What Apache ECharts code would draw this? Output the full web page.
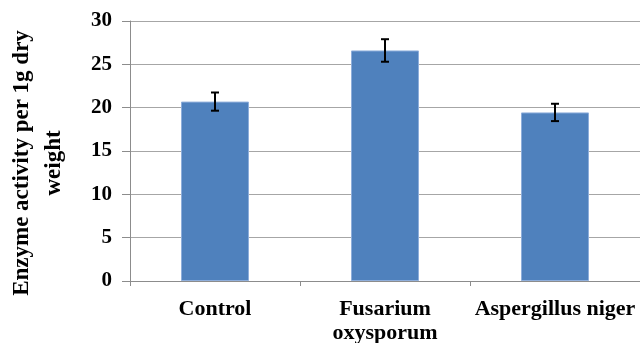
<!DOCTYPE html>
<html>
<head>
<meta charset="utf-8">
<script src="https://cdn.jsdelivr.net/npm/echarts@6/dist/echarts.min.js"></script>
<style>
html,body{margin:0;padding:0;background:#fff;}
#chart{width:640px;height:343px;}
</style>
</head>
<body>
<div id="chart"></div>
<script>
var categories = ['Control', 'Fusarium\noxysporum', 'Aspergillus niger'];
var values = [20.7, 26.6, 19.45];
var errors = [1.05, 1.3, 1.0];
var yTicks = [0, 5, 10, 15, 20, 25, 30];
var yTitle = 'Enzyme activity per 1g dry\nweight';

var errData = categories.map(function (c, i) {
  return [i, values[i] - errors[i], values[i] + errors[i]];
});

var serif = '"Liberation Serif", "Times New Roman", serif';
var chart = echarts.init(document.getElementById('chart'));
chart.setOption({
  animation: false,
  grid: { left: 130, right: 0, top: 21, bottom: 62, containLabel: false, outerBoundsMode: 'none' },
  xAxis: {
    type: 'category',
    data: categories,
    axisLine: { lineStyle: { color: '#8c8c8c', width: 1 } },
    axisTick: { show: true, length: 5, alignWithLabel: false, lineStyle: { color: '#8c8c8c' } },
    axisLabel: {
      margin: 16,
      fontFamily: serif, fontWeight: 'bold', fontSize: 22, color: '#000',
      lineHeight: 24, interval: 0
    }
  },
  yAxis: {
    type: 'value',
    min: yTicks[0], max: yTicks[yTicks.length - 1], interval: 5,
    axisLine: { show: true, lineStyle: { color: '#8c8c8c', width: 1 } },
    axisTick: { show: true, length: 8, lineStyle: { color: '#8c8c8c' } },
    splitLine: { show: true, lineStyle: { color: '#a6a6a6', width: 1 } },
    axisLabel: {
      margin: 18,
      fontFamily: serif, fontWeight: 'bold', fontSize: 21, color: '#000'
    }
  },
  graphic: [{
    type: 'text',
    x: 38, y: 163,
    rotation: Math.PI / 2,
    style: {
      text: yTitle,
      font: 'bold 23px ' + serif,
      fill: '#000',
      align: 'center',
      verticalAlign: 'middle',
      lineHeight: 32
    }
  }],
  series: [{
    type: 'bar',
    data: values,
    barWidth: '40%',
    itemStyle: { color: '#4f81bd', borderColor: '#8eaedb', borderWidth: 1 }
  }, {
    type: 'custom',
    data: errData,
    encode: { x: 0, y: [1, 2] },
    z: 10,
    renderItem: function (params, api) {
      var x = api.value(0);
      var lo = api.coord([x, api.value(1)]);
      var hi = api.coord([x, api.value(2)]);
      var hw = 4;
      var st = { stroke: '#000', lineWidth: 2 };
      return {
        type: 'group',
        children: [
          { type: 'line', shape: { x1: lo[0], y1: lo[1], x2: hi[0], y2: hi[1] }, style: st },
          { type: 'line', shape: { x1: lo[0] - hw, y1: lo[1], x2: lo[0] + hw, y2: lo[1] }, style: st },
          { type: 'line', shape: { x1: hi[0] - hw, y1: hi[1], x2: hi[0] + hw, y2: hi[1] }, style: st }
        ]
      };
    }
  }]
});
</script>
</body>
</html>
